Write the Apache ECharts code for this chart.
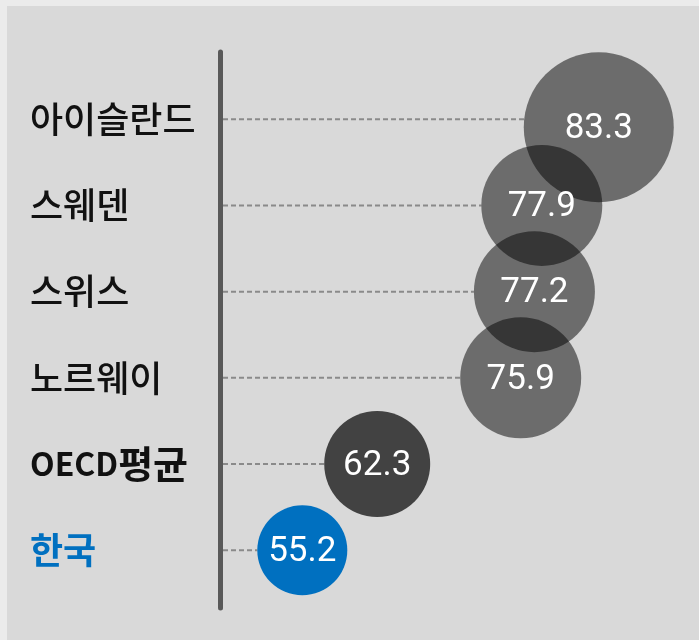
<!DOCTYPE html>
<html>
<head>
<meta charset="utf-8">
<script src="https://cdn.jsdelivr.net/npm/echarts@6/dist/echarts.min.js"></script>
<style>
html,body{margin:0;padding:0;background:#ebebeb;}
#chart{width:699px;height:640px;}
</style>
</head>
<body>
<div id="chart"></div>
<script>
// ---- data ----
const categories = ['아이슬란드', '스웨덴', '스위스', '노르웨이', 'OECD평균', '한국'];
const values = [83.3, 77.9, 77.2, 75.9, 62.3, 55.2];

// ---- styles ----
const bubbleSizes = [150, 121, 121, 121, 106, 90];
const bubbleColors = ['rgba(0,0,0,0.5)', 'rgba(0,0,0,0.5)', 'rgba(0,0,0,0.5)', 'rgba(0,0,0,0.5)', '#424242', '#0070c0'];
const bubbleOffsets = [[0, 8], [0, 0], [0, 0], [0, 0], [0, 0], [0, 0]];
const labelStyles = ['n', 'n', 'n', 'n', 'b', 'k'];
const X_MIN = 47.4, X_MAX = 92.8;
const KR_FONT = '"Noto Sans CJK KR", sans-serif';

function richLabel(i) {
  const s = labelStyles[i];
  const name = categories[i];
  if (s === 'b') {
    const m = name.match(/^([A-Za-z]+)(.*)$/);
    if (m) return '{bl|' + m[1] + '}{bh|' + m[2] + '}';
  }
  return '{' + s + '|' + name + '}';
}

const chart = echarts.init(document.getElementById('chart'), null, {renderer: 'canvas'});
const rows = values.map((v, i) => [v, i]);

const option = {
  backgroundColor: 'transparent',
  animation: false,
  graphic: [{
    type: 'rect', z: -10, silent: true,
    shape: {x: 7, y: 6, width: 700, height: 640},
    style: {fill: '#d9d9d9'}
  }],
  grid: {left: 220, right: 0, top: 52, bottom: 32, containLabel: false},
  xAxis: {type: 'value', min: X_MIN, max: X_MAX, show: false},
  yAxis: {
    type: 'value', inverse: true, min: -0.78, max: 5.67,
    splitLine: {show: false},
    axisTick: {show: false},
    axisLine: {show: true, onZero: false, lineStyle: {color: '#595959', width: 5}},
    axisLabel: {
      customValues: [0, 1, 2, 3, 4, 5],
      margin: 190,
      align: 'left',
      formatter: function (v) {
        return richLabel(Math.round(v));
      },
      rich: {
        n: {fontSize: 36, fontWeight: 500, color: '#111111', fontFamily: KR_FONT},
        bl: {fontSize: 32, fontWeight: 'bold', color: '#111111', fontFamily: KR_FONT},
        bh: {fontSize: 38, fontWeight: 'bold', color: '#111111', fontFamily: KR_FONT},
        k: {fontSize: 36, fontWeight: 'bold', color: '#0070c0', fontFamily: KR_FONT}
      }
    }
  },
  series: [
    {
      type: 'custom',
      z: 1,
      silent: true,
      data: rows,
      renderItem: function (params, api) {
        const idx = api.value(1);
        const v = api.value(0);
        const start = api.coord([X_MIN, idx]);
        const end = api.coord([v, idx]);
        const r = bubbleSizes[params.dataIndex] / 2;
        const off = bubbleOffsets[params.dataIndex][1];
        const half = Math.sqrt(Math.max(r * r - off * off, 0));
        return {
          type: 'line',
          shape: {x1: start[0] + 3, y1: start[1], x2: end[0] - half, y2: end[1]},
          style: {stroke: '#8a8a8a', lineWidth: 2, lineDash: [5, 3]}
        };
      }
    },
    {
      type: 'scatter',
      z: 2,
      data: rows.map((r, i) => ({
        value: r,
        symbolSize: bubbleSizes[i],
        symbolOffset: bubbleOffsets[i],
        itemStyle: {color: bubbleColors[i], opacity: 1}
      })),
      label: {
        show: true,
        position: 'inside',
        color: '#ffffff',
        fontSize: 35,
        fontFamily: 'Roboto, sans-serif',
        offset: [0, 2],
        formatter: function (p) { return p.value[0].toFixed(1); }
      },
      emphasis: {disabled: true}
    }
  ]
};
chart.setOption(option);
</script>
</body>
</html>
